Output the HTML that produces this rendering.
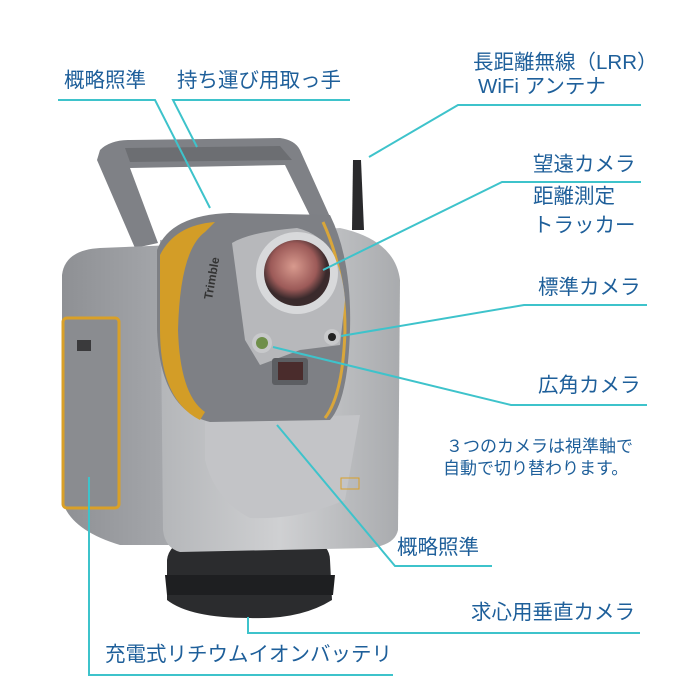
<!DOCTYPE html>
<html><head><meta charset="utf-8"><style>
html,body{margin:0;padding:0;background:#fff;}
#w{position:relative;width:676px;height:694px;overflow:hidden;font-family:"Liberation Sans","Noto Sans CJK JP",sans-serif;color:#1e5f9a;}
.t{position:absolute;font-size:20.5px;line-height:22px;white-space:nowrap;}
.s{position:absolute;font-size:17px;line-height:21px;white-space:nowrap;}
svg{position:absolute;left:0;top:0;}
</style></head><body><div id="w">
<svg width="676" height="694" viewBox="0 0 676 694">
<defs>
<linearGradient id="bd" x1="0" x2="1"><stop offset="0" stop-color="#8e9094"/><stop offset="1" stop-color="#a8aaae"/></linearGradient>
<linearGradient id="fr" x1="0" x2="1"><stop offset="0" stop-color="#b4b6b9"/><stop offset=".5" stop-color="#cfd0d2"/><stop offset="1" stop-color="#a9abae"/></linearGradient>
<radialGradient id="ln" cx=".45" cy=".4"><stop offset="0" stop-color="#d89a8e"/><stop offset=".7" stop-color="#9c5a58"/><stop offset="1" stop-color="#3a2a2c"/></radialGradient>
</defs>
<path d="M97,160 L100,150 Q110,140 130,140 L280,138 Q295,140 300,150 L335,228 L318,232 L285,165 L130,168 L158,243 L135,248 Z" fill="#7f8186"/>
<path d="M125,148 L280,146 L292,160 L130,162 Z" fill="#6c6e72"/>
<path d="M353,160 L361,160 L364,230 L352,230 Z" fill="#2a2a2c"/>
<path d="M167,560 Q170,530 250,527 Q330,530 330,560 L332,600 Q300,620 250,618 Q190,618 167,600 Z" fill="#2b2c2e"/>
<path d="M165,575 L335,575 L333,595 L167,595 Z" fill="#1e1f21"/>
<path d="M62,275 Q65,250 100,248 L175,245 L180,545 L120,545 Q70,530 62,500 Z" fill="url(#bd)"/>
<rect x="63" y="318" width="56" height="190" rx="4" fill="#8a8c90" stroke="#d9a028" stroke-width="3"/>
<rect x="77" y="340" width="14" height="11" fill="#3a3a3c"/>
<path d="M160,240 L340,228 Q395,240 400,280 L398,530 Q395,545 370,548 L180,552 Q165,548 163,530 Z" fill="url(#fr)"/>
<path d="M205,420 L360,415 L345,500 Q300,520 250,518 Q215,500 205,460 Z" fill="#c3c4c7"/>
<path d="M157,250 Q170,215 230,213 L330,215 Q352,260 350,330 Q348,400 330,420 L210,422 Q160,410 157,330 Z" fill="#7e8085"/>
<path d="M160,255 Q175,225 215,222 L205,232 Q180,250 178,330 Q180,395 205,412 L200,420 Q160,400 160,330 Z" fill="#d39d27"/>
<path d="M323,222 Q345,270 345,330 Q343,395 325,418" stroke="#d9a63a" stroke-width="3" fill="none"/>
<path d="M232,243 Q250,232 297,228 Q340,238 345,300 L340,345 L300,350 L260,365 L245,340 Z" fill="#b7b8bb"/>
<circle cx="297" cy="273" r="41" fill="#d8d9db"/>
<circle cx="297" cy="273" r="33" fill="url(#ln)"/>
<circle cx="262" cy="343" r="10" fill="#c8c9cb"/><circle cx="262" cy="343" r="6" fill="#6f8f4a"/>
<circle cx="332" cy="337" r="8" fill="#c8c9cb"/><circle cx="332" cy="337" r="4" fill="#222"/>
<rect x="272" y="358" width="36" height="27" rx="3" fill="#5c5e62"/><rect x="278" y="362" width="25" height="18" fill="#4a2c2c"/>
<text x="212" y="300" font-size="12" font-weight="bold" fill="#333" transform="rotate(-80 212 300)" font-family="Liberation Sans">Trimble</text>
<rect x="341" y="478" width="18" height="11" fill="none" stroke="#d9a028" stroke-width="1"/>
<g stroke="#3ec3cb" stroke-width="2" fill="none">
<polyline points="58,100 155,100 210,208"/>
<polyline points="350,100 173,100 197,147"/>
<polyline points="641,105 458,105 369,157"/>
<polyline points="641,182 502,182 323,270"/>
<polyline points="647,305 524,305 341,336"/>
<polyline points="647,405 511,405 273,347"/>
<polyline points="492,566 395,566 277,425"/>
<polyline points="248,617 248,633 640,633"/>
<polyline points="89,477 89,675 393,675"/>
</g>
</svg>
<div class="t" style="left:64px;top:70px">概略照準</div>
<div class="t" style="left:177px;top:70px">持ち運び用取っ手</div>
<div class="t" style="left:473px;top:52px">長距離無線（LRR）</div>
<div class="t" style="left:478px;top:76px">WiFi アンテナ</div>
<div class="t" style="left:533px;top:154px">望遠カメラ</div>
<div class="t" style="left:533px;top:186px">距離測定</div>
<div class="t" style="left:533px;top:215px">トラッカー</div>
<div class="t" style="left:538px;top:277px">標準カメラ</div>
<div class="t" style="left:538px;top:375px">広角カメラ</div>
<div class="s" style="left:446px;top:436px">３つのカメラは視準軸で</div>
<div class="s" style="left:443px;top:458px">自動で切り替わります。</div>
<div class="t" style="left:397px;top:537px">概略照準</div>
<div class="t" style="left:471px;top:602px">求心用垂直カメラ</div>
<div class="t" style="left:105px;top:644px">充電式リチウムイオンバッテリ</div>
</div></body></html>
